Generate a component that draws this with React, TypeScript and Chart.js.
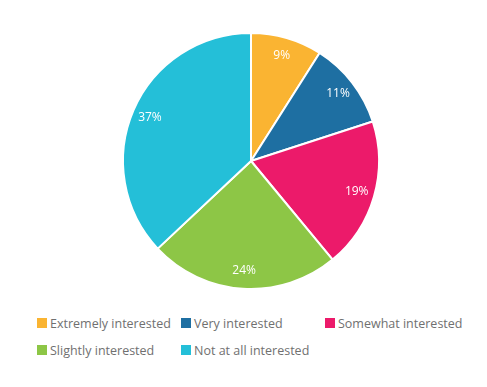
import React, { useEffect, useRef } from "react";
import { Chart, registerables } from "chart.js";

Chart.register(...registerables);

const categories = [
  "Extremely interested",
  "Very interested",
  "Somewhat interested",
  "Slightly interested",
  "Not at all interested",
];
const values = [9, 11, 19, 24, 37];
const colors = ["#FAB432", "#1E6FA2", "#EC1A6A", "#8DC646", "#24BFD8"];
const FONT = "'Open Sans', sans-serif";

const labelPlugin = {
  id: "pieLabels",
  afterDatasetsDraw(chart: any) {
    const ctx = chart.ctx;
    const meta = chart.getDatasetMeta(0);
    const total = values.reduce((a, b) => a + b, 0);
    ctx.save();
    ctx.fillStyle = "#ffffff";
    ctx.font = `12px ${FONT}`;
    ctx.textAlign = "center";
    ctx.textBaseline = "middle";
    meta.data.forEach((arc: any, i: number) => {
      const { x, y, startAngle, endAngle, outerRadius } = arc.getProps(
        ["x", "y", "startAngle", "endAngle", "outerRadius"],
        true
      );
      const mid = (startAngle + endAngle) / 2;
      const r = outerRadius * 0.86;
      const pct = Math.round((values[i] / total) * 100);
      ctx.fillText(pct + "%", x + Math.cos(mid) * r, y + Math.sin(mid) * r);
    });
    ctx.restore();
  },
};

export default function App() {
  const ref = useRef<HTMLCanvasElement>(null);
  useEffect(() => {
    if (!ref.current) return;
    const chart = new Chart(ref.current, {
      type: "pie",
      data: {
        labels: categories,
        datasets: [
          {
            data: values,
            backgroundColor: colors,
            borderColor: "#ffffff",
            borderWidth: 2,
          },
        ],
      },
      options: {
        animation: false,
        responsive: false,
        layout: { padding: { top: 24, bottom: 24, left: 15, right: 0 } },
        plugins: { legend: { display: false }, tooltip: { enabled: false } },
      },
      plugins: [labelPlugin],
    });
    return () => chart.destroy();
  }, []);

  const cols = [29, 173, 317];
  const rows = [306, 333];
  return (
    <div style={{ position: "relative", width: 471, height: 371, fontFamily: FONT }}>
      <canvas ref={ref} width={471} height={306} style={{ display: "block" }} />
      {categories.map((c, i) => (
        <div
          key={c}
          style={{
            position: "absolute",
            left: cols[i % 3],
            top: rows[Math.floor(i / 3)],
            height: 18,
            display: "flex",
            alignItems: "center",
            fontSize: 12.5,
            color: "#707070",
            whiteSpace: "nowrap",
          }}
        >
          <span
            style={{
              display: "inline-block",
              width: 10,
              height: 10,
              background: colors[i],
              marginRight: 3,
            }}
          />
          {c}
        </div>
      ))}
    </div>
  );
}
